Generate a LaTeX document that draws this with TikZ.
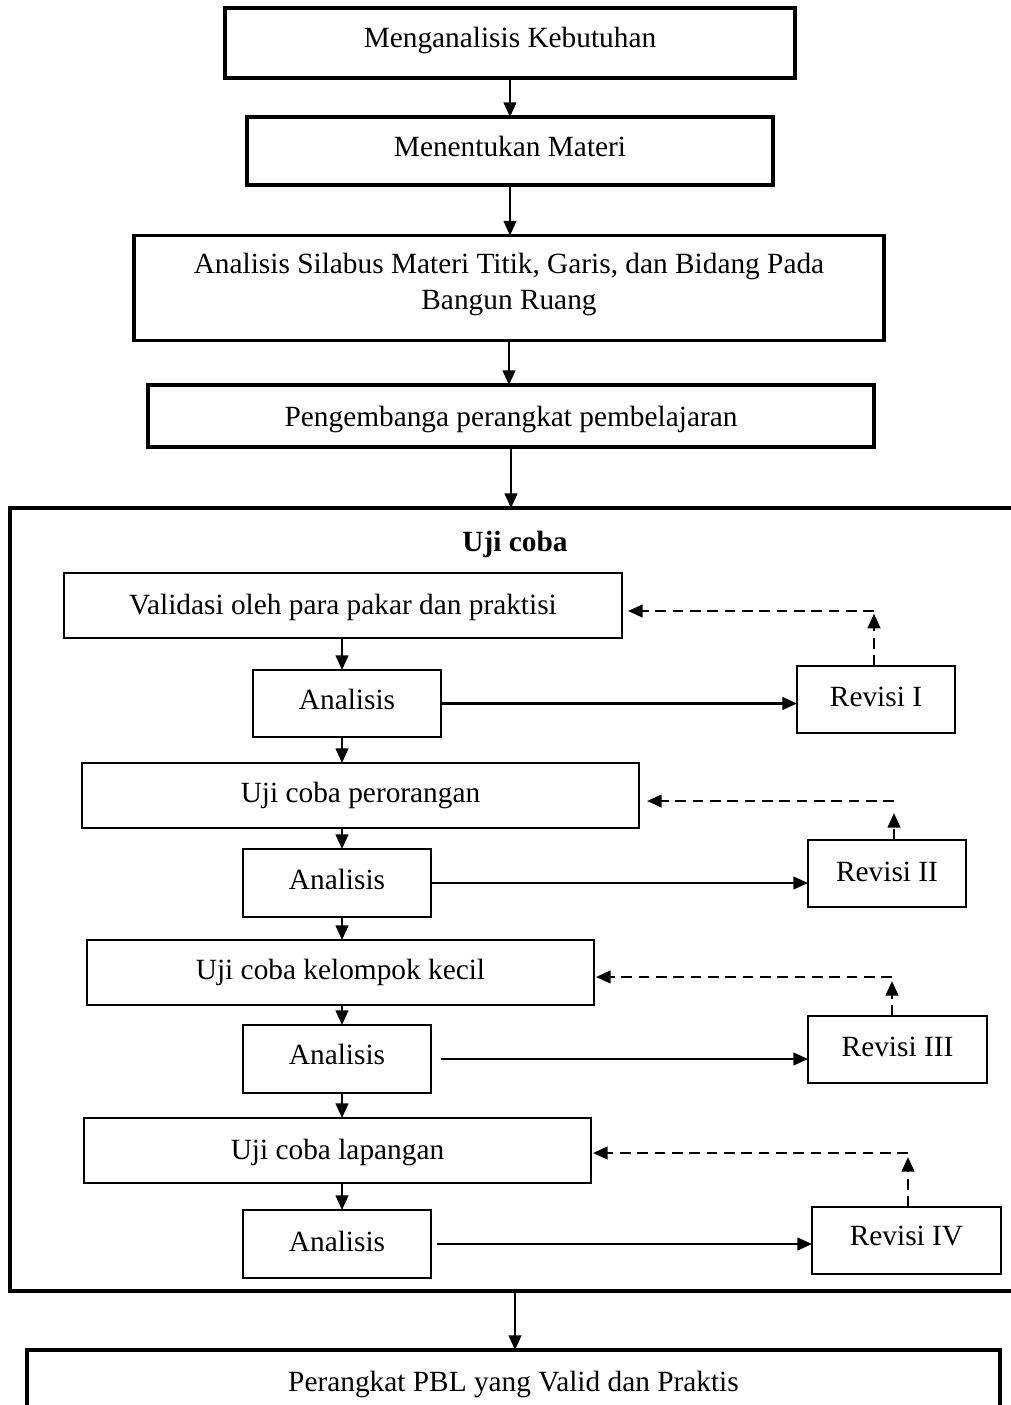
\documentclass[tikz,border=0pt]{standalone}
\usepackage{fontspec}
\setmainfont{Liberation Serif}
\usetikzlibrary{arrows.meta,calc}
\begin{document}
\begin{tikzpicture}[x=0.75pt,y=-0.75pt,
  every node/.style={outer sep=0pt, inner sep=0pt},
  mainbox/.style={draw, line width=2.3pt},
  bigbox/.style={draw, line width=3pt},
  subbox/.style={draw, line width=1.1pt},
  sz/.style 2 args={minimum width=#1*0.75pt, minimum height=#2*0.75pt},
  txt/.style={anchor=base, font=\fontsize{22}{27}\selectfont, align=center},
  arr/.style={line width=1.7pt, -{Triangle[length=11pt,width=9.5pt]}},
  darr/.style={line width=1.7pt, dash pattern=on 8pt off 5pt, -{Triangle[length=11pt,width=9.5pt]}},
]
\useasboundingbox (0,0) rectangle (1010,1405);

% upper chain
\node[mainbox, sz={570}{70}] (b1) at (510,43) {};
\node[txt] (t1) at ($(b1.north)+(0,40)$) {Menganalisis Kebutuhan};
\node[mainbox, sz={526}{68}] (b2) at (510,151) {};
\node[txt] (t2) at ($(b2.north)+(0,40)$) {Menentukan Materi};
\node[mainbox, sz={750}{105}] (b3) at (509,288) {};
\node[txt] (t3) at ($(b3.north)+(0,74)$) {Analisis Silabus Materi Titik, Garis, dan Bidang Pada\\Bangun Ruang};
\node[mainbox, sz={726}{62}] (b4) at (511,416) {};
\node[txt] (t4) at ($(b4.north)+(0,41)$) {Pengembanga perangkat pembelajaran};

% big trial box
\node[bigbox, sz={1010}{783}] (big) at (515,899.5) {};
\node[txt, font=\fontsize{22}{27}\selectfont\bfseries] (tu) at (515,551) {Uji coba};

% inner boxes
\node[subbox, sz={558}{65}] (val) at (343,605.5) {};
\node[txt] at ($(val.north)+(0,41)$) {Validasi oleh para pakar dan praktisi};
\node[subbox, sz={188}{67}] (an1) at (347,703.5) {};
\node[txt] at ($(an1.north)+(0,39)$) {Analisis};
\node[subbox, sz={158}{67}] (rv1) at (876,699.5) {};
\node[txt] at ($(rv1.north)+(0,40)$) {Revisi I};

\node[subbox, sz={557}{65}] (per) at (360.5,795.5) {};
\node[txt] at ($(per.north)+(0,39)$) {Uji coba perorangan};
\node[subbox, sz={188}{68}] (an2) at (337,883) {};
\node[txt] at ($(an2.north)+(0,40)$) {Analisis};
\node[subbox, sz={158}{67}] (rv2) at (887,873.5) {};
\node[txt] at ($(rv2.north)+(0,41)$) {Revisi II};

\node[subbox, sz={507}{65}] (kec) at (340.5,972.5) {};
\node[txt] at ($(kec.north)+(0,39)$) {Uji coba kelompok kecil};
\node[subbox, sz={188}{68}] (an3) at (337,1059) {};
\node[txt] at ($(an3.north)+(0,39)$) {Analisis};
\node[subbox, sz={179}{67}] (rv3) at (897.5,1049.5) {};
\node[txt] at ($(rv3.north)+(0,40)$) {Revisi III};

\node[subbox, sz={507}{65}] (lap) at (337.5,1150.5) {};
\node[txt] at ($(lap.north)+(0,41)$) {Uji coba lapangan};
\node[subbox, sz={188}{68}] (an4) at (337,1244) {};
\node[txt] at ($(an4.north)+(0,41)$) {Analisis};
\node[subbox, sz={189}{67}] (rv4) at (906.5,1240.5) {};
\node[txt] at ($(rv4.north)+(0,38)$) {Revisi IV};

% final box
\node[mainbox, sz={973}{100}] (fin) at (513.5,1400) {};
\node[txt] (tf) at ($(fin.north)+(0,41)$) {Perangkat PBL yang Valid dan Praktis};

% upper arrows
\draw[arr] (b1.south) -- (b1.south |- b2.north);
\draw[arr] (b2.south) -- (b2.south |- b3.north);
\draw[arr] (b3.south) -- (b3.south |- b4.north);
\draw[arr] (b4.south) -- (b4.south |- big.north);
\draw[arr] (big.south) -- (big.south |- fin.north);

% inner column arrows
\coordinate (cx) at (342,0);
\draw[arr] (val.south -| cx) -- (an1.north -| cx);
\draw[arr] (an1.south -| cx) -- (per.north -| cx);
\draw[arr] (per.south -| cx) -- (an2.north -| cx);
\draw[arr] (an2.south -| cx) -- (kec.north -| cx);
\draw[arr] (kec.south -| cx) -- (an3.north -| cx);
\draw[arr] (an3.south -| cx) -- (lap.north -| cx);
\draw[arr] (lap.south -| cx) -- (an4.north -| cx);

% analysis to revision
\draw[arr] (an1.east) -- (an1.east -| rv1.west);
\draw[arr] (an2.east) -- (an2.east -| rv2.west);
\draw[arr, shorten <=7.5pt] (an3.east) -- (an3.east -| rv3.west);
\draw[arr, shorten <=4.5pt] (an4.east) -- (an4.east -| rv4.west);

% revision feedback (dashed)
\coordinate (c1) at (874,611);
\coordinate (c2) at (894,801);
\coordinate (c3) at (892,977);
\coordinate (c4) at (908,1153);
\draw[darr, shorten >=2pt] (c1 |- rv1.north) -- (c1);
\draw[darr, shorten >=4.5pt] (c1) -- (c1 -| val.east);
\draw[darr, shorten >=9pt] (c2 |- rv2.north) -- (c2);
\draw[darr, shorten >=6pt] (c2) -- (c2 -| per.east);
\draw[darr, shorten >=3pt] (c3 |- rv3.north) -- (c3);
\draw[darr, shorten >=1.5pt] (c3) -- (c3 -| kec.east);
\draw[darr, shorten >=3pt] (c4 |- rv4.north) -- (c4);
\draw[darr, shorten >=1.5pt] (c4) -- (c4 -| lap.east);
\end{tikzpicture}
\end{document}
